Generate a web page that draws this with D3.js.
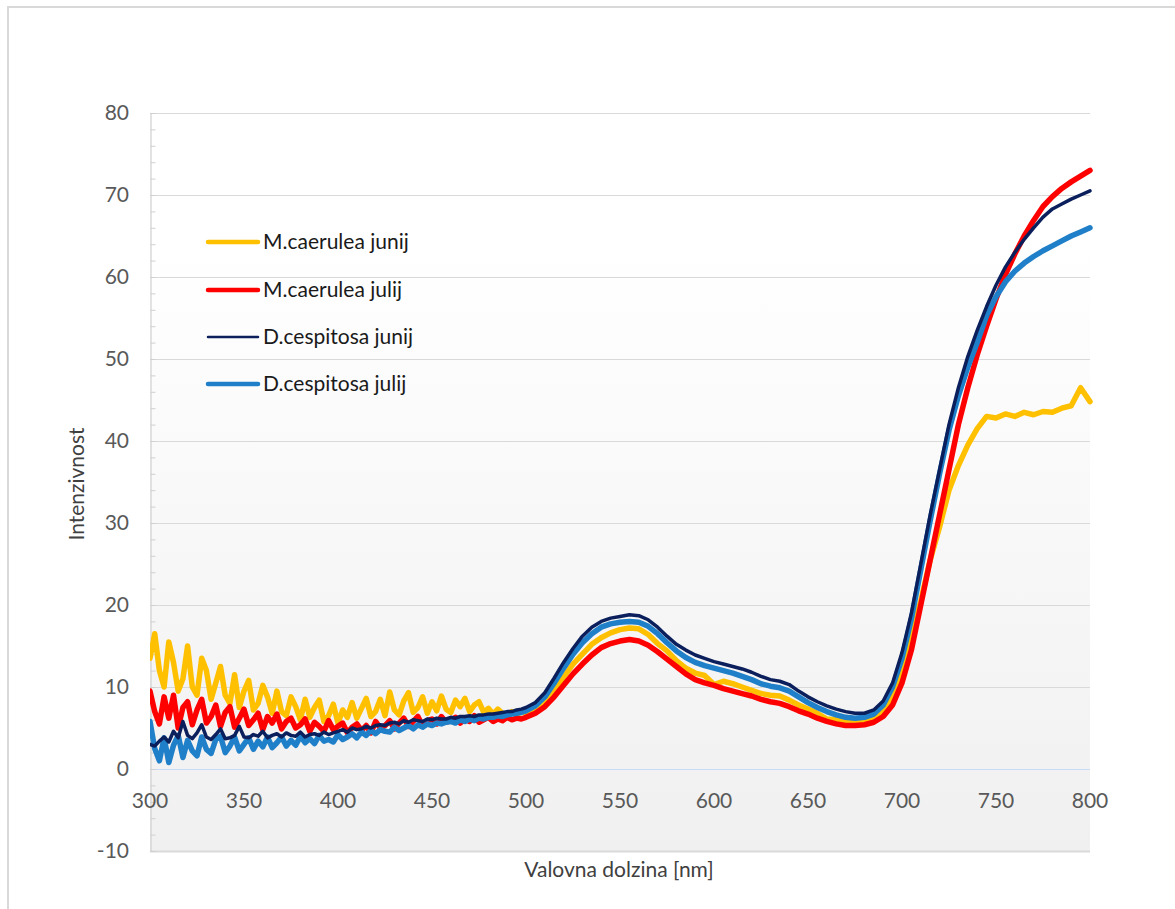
<!DOCTYPE html>
<html>
<head>
<meta charset="utf-8">
<script src="https://cdn.jsdelivr.net/npm/d3@7"></script>
<style>
  html, body { margin: 0; padding: 0; background: #ffffff; }
  svg { display: block; }
  text { font-family: Lato, "Open Sans", "Liberation Sans", sans-serif; }
</style>
</head>
<body>
<svg id="chart" width="1175" height="909"></svg>
<script>
// Wavelengths: 2.5 nm steps through the noisy UV/blue part, 5 nm steps afterwards
const wavelengths = d3.range(300, 500, 2.5).concat(d3.range(500, 801, 5));

const seriesNames = ["M.caerulea junij", "M.caerulea julij", "D.cespitosa junij", "D.cespitosa julij"];
const seriesColors = ["#ffc000", "#ff0000", "#0a1f5c", "#1f7fc8"];
const seriesWidths = [5.5, 5.5, 3.5, 5.5];

const mcJunij = [
  13.5, 16.5, 12, 10, 15.5, 13, 9.5, 11, 15, 10,
  9, 13.5, 12, 8.5, 10.5, 12.5, 9, 8, 11.5, 7.5,
  9.5, 10.8, 7.2, 8, 10.2, 8.8, 6.8, 9.5, 7, 6.5,
  8.8, 7.6, 6, 8.5, 6.3, 7.5, 8.4, 5.8, 6.5, 7.9,
  5.6, 7.2, 6.3, 8.1, 6.2, 7.4, 8.6, 6.4, 7, 8.5,
  6.5, 9.4, 7.2, 6.6, 8.3, 9.3, 6.9, 7.5, 8.8, 6.8,
  8.2, 7.1, 8.9, 7.3, 6.9, 8.4, 7.6, 8.6, 7.0, 7.8,
  8.2, 6.9, 7.4, 6.7, 7.3, 6.8, 6.6, 7.0, 6.7, 6.9,
  6.9, 7.3, 8.2, 9.6, 11.2, 12.8, 14.0, 15.2, 16.0, 16.6,
  17.0, 17.2, 17.1, 16.4, 15.3, 14.4, 13.2, 12.3, 11.7, 11.4,
  10.3, 10.7, 10.4, 10.0, 9.6, 9.2, 9.0, 8.9, 8.4, 7.8,
  7.3, 6.8, 6.1, 6.0, 5.9, 5.8, 5.9, 6.2, 7.0, 8.8,
  12.5, 16.5, 20.5, 25.5, 29.5, 34, 37, 39.5, 41.5, 43,
  42.8, 43.3, 43.0, 43.5, 43.2, 43.6, 43.5, 44.0, 44.3, 46.5,
  44.8
];

const mcJulij = [
  9.5, 7, 5.5, 8.8, 6.2, 9, 5, 7.5, 8.2, 5.4,
  7.2, 8.5, 5.6, 6.4, 7.8, 5.2, 6.9, 7.6, 5.1, 6.2,
  7.3, 5.3, 6.0, 6.8, 4.8, 6.4, 5.6, 6.7, 4.9, 5.8,
  6.2, 5.0, 5.4, 6.1, 4.6, 5.7, 5.2, 4.6, 5.9, 4.8,
  5.2, 5.6, 4.4, 5.1, 5.5, 4.7, 5.3, 4.4, 5.8, 5.0,
  5.3, 5.9, 4.9, 5.6, 6.2, 5.2, 5.8, 6.4, 5.3, 5.9,
  6.1, 5.5, 6.4, 5.7, 5.9, 6.3, 5.6, 6.1, 5.8, 6.5,
  5.7, 6.0, 6.3, 5.8, 6.1, 5.9, 6.3, 6.0, 6.2, 6.1,
  6.3, 6.8, 7.6, 8.8, 10.2, 11.6, 12.8, 13.9, 14.8, 15.3,
  15.6, 15.8, 15.6, 15.1, 14.3, 13.4, 12.5, 11.6, 10.9, 10.5,
  10.2, 9.8, 9.5, 9.2, 8.9, 8.5, 8.2, 8.0, 7.6, 7.1,
  6.7, 6.2, 5.8, 5.5, 5.3, 5.3, 5.4, 5.7, 6.4, 7.8,
  10.5, 14.5, 20, 25.5, 31, 36.5, 42, 46.5, 50.5, 54,
  57.3, 60.3, 62.8, 65, 66.9, 68.6, 69.8, 70.8, 71.6, 72.3,
  73.0
];

const dcJunij = [
  3.0, 2.8, 3.4, 3.9, 3.3, 4.6, 3.8, 5.8, 4.1, 3.7,
  4.4, 5.4, 3.9, 3.6, 4.2, 4.9, 3.7, 3.8, 4.1, 5.2,
  3.9, 3.8, 4.2, 4.0, 4.6, 3.8, 4.1, 4.3, 3.9, 4.4,
  4.1, 4.0, 4.5, 3.9, 4.2, 4.3, 4.1, 4.5, 4.2, 4.4,
  4.6, 4.8, 4.5, 5.0, 4.8, 4.9, 5.2, 5.0, 5.3, 5.4,
  5.3, 5.6, 5.7, 5.5, 5.9, 5.7, 6.0, 5.9, 5.8, 6.1,
  6.0, 6.2, 6.1, 6.1, 6.3, 6.2, 6.4, 6.4, 6.5, 6.4,
  6.6, 6.6, 6.7, 6.7, 6.8, 6.9, 7.0, 7.0, 7.2, 7.3,
  7.5, 8.1, 9.3, 11.1, 13.0, 14.7, 16.2, 17.3, 18.0, 18.4,
  18.6, 18.8, 18.7, 18.2, 17.3, 16.2, 15.2, 14.5, 13.9, 13.5,
  13.1, 12.8, 12.5, 12.2, 11.8, 11.3, 10.9, 10.7, 10.3, 9.5,
  8.8, 8.2, 7.7, 7.3, 7.0, 6.8, 6.8, 7.2, 8.3, 10.5,
  14.2, 19, 25, 31, 36.5, 42, 46.5, 50.3, 53.5, 56.4,
  59, 61.2, 63, 64.6, 66, 67.3, 68.3, 68.9, 69.5, 70.0,
  70.5
];

const dcJulij = [
  5.8, 2.5, 1.0, 3.8, 0.8, 2.9, 4.1, 1.4, 3.5, 2.2,
  1.6, 3.9, 2.4, 1.9, 3.6, 4.0, 2.0, 2.8, 3.9, 2.2,
  3.0, 3.8, 2.4, 3.4, 2.7, 3.9, 2.6, 3.2, 3.9, 2.8,
  3.5, 2.9, 4.0, 3.2, 3.7, 3.1, 4.1, 3.4, 3.6, 3.3,
  4.2, 3.6, 3.9, 4.3, 3.8, 4.5, 4.1, 4.7, 4.3, 4.8,
  4.6, 4.5, 5.1, 4.7, 5.0, 5.3, 4.9, 5.4, 5.1, 5.5,
  5.3, 5.6, 5.5, 5.7, 5.8, 5.6, 6.0, 5.8, 6.1, 5.9,
  6.2, 6.1, 6.3, 6.3, 6.5, 6.4, 6.6, 6.7, 6.8, 6.9,
  7.1, 7.7, 8.8, 10.5, 12.3, 14.0, 15.4, 16.5, 17.3, 17.7,
  17.9, 18.0, 17.9, 17.4, 16.5, 15.4, 14.4, 13.6, 13.0, 12.6,
  12.3, 12.0, 11.7, 11.3, 10.9, 10.4, 10.1, 9.9, 9.5, 8.8,
  8.1, 7.5, 7.0, 6.6, 6.3, 6.2, 6.3, 6.7, 7.8, 10.0,
  13.5, 18.3, 24.3, 30.3, 36, 41.3, 45.5, 49, 52, 55.3,
  57.6, 59.4, 60.7, 61.7, 62.5, 63.2, 63.8, 64.4, 65.0, 65.5,
  66.0
];

const xTicks = [300, 350, 400, 450, 500, 550, 600, 650, 700, 750, 800];
const yTicks = [-10, 0, 10, 20, 30, 40, 50, 60, 70, 80];
const xTitle = "Valovna dolzina [nm]";
const yTitle = "Intenzivnost";

const allSeries = [mcJunij, mcJulij, dcJunij, dcJulij];
// drawing order: the thin dark series goes on top
const drawOrder = [0, 1, 3, 2];

const svg = d3.select("#chart");
const plot = { left: 150, right: 1090, top: 113, bottom: 851 };

const x = d3.scaleLinear().domain([300, 800]).range([plot.left, plot.right]);
const y = d3.scaleLinear().domain([-10, 80]).range([plot.bottom, plot.top]);

// outer frame
svg.append("rect")
  .attr("x", 8).attr("y", 7).attr("width", 1180).attr("height", 920)
  .attr("fill", "#ffffff").attr("stroke", "#d9d9d9").attr("stroke-width", 2);

// plot area background gradient
const defs = svg.append("defs");
const grad = defs.append("linearGradient").attr("id", "plotBg")
  .attr("x1", 0).attr("y1", 0).attr("x2", 0).attr("y2", 1);
grad.append("stop").attr("offset", "0%").attr("stop-color", "#ffffff");
grad.append("stop").attr("offset", "18%").attr("stop-color", "#ffffff");
grad.append("stop").attr("offset", "100%").attr("stop-color", "#f0f0f0");

svg.append("rect")
  .attr("x", plot.left).attr("y", plot.top)
  .attr("width", plot.right - plot.left).attr("height", plot.bottom - plot.top)
  .attr("fill", "url(#plotBg)");

// horizontal gridlines
svg.append("g")
  .selectAll("line")
  .data(yTicks.filter(v => v !== 0 && v !== -10))
  .join("line")
  .attr("x1", plot.left).attr("x2", plot.right)
  .attr("y1", d => Math.round(y(d)) + 0.5).attr("y2", d => Math.round(y(d)) + 0.5)
  .attr("stroke", "#d9d9d9").attr("stroke-width", 1);

// bottom edge of plot
svg.append("line")
  .attr("x1", plot.left).attr("x2", plot.right)
  .attr("y1", plot.bottom + 0.5).attr("y2", plot.bottom + 0.5)
  .attr("stroke", "#d9d9d9").attr("stroke-width", 2);

// zero line (x axis)
svg.append("line")
  .attr("x1", plot.left).attr("x2", plot.right)
  .attr("y1", Math.round(y(0)) + 0.5).attr("y2", Math.round(y(0)) + 0.5)
  .attr("stroke", "#c5dbf6").attr("stroke-width", 1.2);

// y axis with minor ticks
const yAxis = d3.axisRight(y)
  .tickValues(d3.range(-10, 81, 2))
  .tickSize(5)
  .tickFormat("");
const yAxisG = svg.append("g")
  .attr("transform", `translate(${plot.left + 0.5},0)`)
  .call(yAxis);
yAxisG.select(".domain").attr("stroke", "#d0d0d0").attr("stroke-width", 1.2);
yAxisG.selectAll(".tick line").attr("stroke", "#d0d0d0");

// y tick labels
svg.append("g")
  .selectAll("text")
  .data(yTicks)
  .join("text")
  .attr("x", 129)
  .attr("y", d => y(d))
  .attr("dy", "0.35em")
  .attr("text-anchor", "end")
  .attr("fill", "#595959")
  .attr("font-size", 21)
  .text(d => d);

// x tick labels (hang below the zero line)
svg.append("g")
  .selectAll("text")
  .data(xTicks)
  .join("text")
  .attr("x", d => x(d))
  .attr("y", 808)
  .attr("text-anchor", "middle")
  .attr("fill", "#595959")
  .attr("font-size", 21)
  .text(d => d);

// axis titles
svg.append("text")
  .attr("x", 619).attr("y", 877)
  .attr("text-anchor", "middle")
  .attr("fill", "#404040")
  .attr("font-size", 21)
  .text(xTitle);

svg.append("text")
  .attr("transform", "translate(84,484) rotate(-90)")
  .attr("text-anchor", "middle")
  .attr("fill", "#404040")
  .attr("font-size", 21)
  .text(yTitle);

// spectra
const line = d3.line()
  .x((d, i) => x(wavelengths[i]))
  .y(d => y(d));

const clipId = "plotClip";
defs.append("clipPath").attr("id", clipId)
  .append("rect")
  .attr("x", plot.left).attr("y", plot.top - 5)
  .attr("width", plot.right - plot.left + 3).attr("height", plot.bottom - plot.top + 5);

const linesG = svg.append("g").attr("clip-path", `url(#${clipId})`);
drawOrder.forEach(k => {
  linesG.append("path")
    .datum(allSeries[k])
    .attr("d", line)
    .attr("fill", "none")
    .attr("stroke", seriesColors[k])
    .attr("stroke-width", seriesWidths[k])
    .attr("stroke-linejoin", "round")
    .attr("stroke-linecap", "round");
});

// legend
const legendY = [242, 290, 337, 384];
const legend = svg.append("g");
seriesNames.forEach((name, k) => {
  legend.append("line")
    .attr("x1", 208).attr("x2", 258)
    .attr("y1", legendY[k]).attr("y2", legendY[k])
    .attr("stroke", seriesColors[k])
    .attr("stroke-width", k === 2 ? 2.5 : 4.5)
    .attr("stroke-linecap", "round");
  legend.append("text")
    .attr("x", 263).attr("y", legendY[k])
    .attr("dy", "0.35em")
    .attr("fill", "#1a1a1a")
    .attr("font-size", 21)
    .text(name);
});
</script>
</body>
</html>
